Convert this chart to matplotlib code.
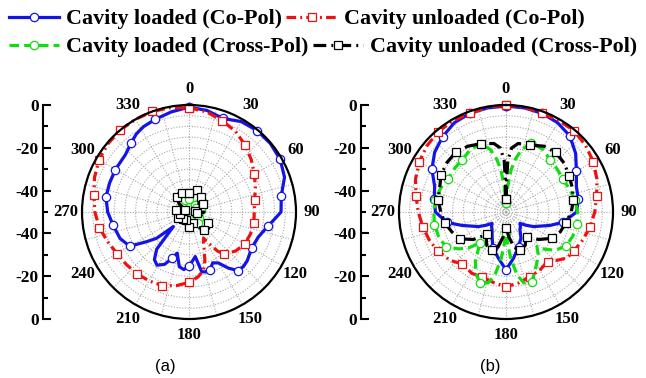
import numpy as np
import matplotlib
matplotlib.use('Agg')
import matplotlib.pyplot as plt
from matplotlib.ticker import FixedLocator

plt.rcParams['font.family'] = ['Liberation Serif', 'DejaVu Serif']
plt.rcParams['font.weight'] = 'bold'

# ---------------- data (dB vs angle in degrees) ----------------
# (a) Co-Pol, cavity loaded
a_blue_ang = [0, 10, 20, 30, 40, 50, 60, 70, 80, 90, 95, 100, 110, 120, 130, 135, 140, 145, 150,
              155, 160, 165, 168, 172, 176, 180, 185, 190, 196, 200, 205, 211, 216, 221, 227, 231,
              235, 240, 249, 260, 270, 280, 290, 300, 312, 320, 326, 332, 340, 350, 360]
a_blue_val = [-1, -1.8, -3.5, -1.2, -0.4, -0.3, -0.8, -2.5, -6.2, -7, -10, -12.5, -15.6, -16.2,
              -14.5, -14, -14.2, -18, -22.5, -23.8, -21.2, -21, -21.5, -29, -27, -25, -23, -24,
              -30, -27, -23, -21, -22.5, -27, -40, -30.5, -25.8, -18, -15.5, -14, -12, -10.6,
              -10.5, -10.3, -10, -7.9, -6, -4.8, -3.9, -2.5, -1]
# (a) Co-Pol, cavity unloaded
a_red_ang = [0, 10, 20, 30, 40, 50, 60, 70, 80, 90, 100, 110, 120, 130, 140, 144, 148, 151, 155,
             158, 162, 166, 172, 180, 190, 200, 210, 220, 230, 240, 250, 260, 270, 280, 290, 300,
             310, 320, 330, 340, 350, 360]
a_red_val = [-1.3, -2.5, -4.6, -6.5, -9.2, -12, -14.7, -17, -18.9, -19.5, -19.2, -19.5, -20, -21.6,
             -24.4, -27.5, -33, -36, -34, -31, -26, -22, -19.4, -17.1, -15, -13.4, -12.8, -12.3,
             -11.8, -11.2, -9.5, -7.5, -6, -4.9, -3, -1.4, -0.5, 0, 0, 0, -0.5, -1.3]
# (a) Cross-Pol, cavity loaded
a_green_ang = list(range(0, 361, 10))
a_green_val = [-44, -43, -42.5, -44, -46, -47, -46, -45, -44.5, -46, -47, -46, -44.5, -43, -43.5,
               -45, -44.5, -44, -44, -45, -46.5, -47, -46, -45, -46, -47, -47.5, -46, -45, -46.5,
               -47, -46, -45, -44.5, -44, -43.5, -44]
# (a) Cross-Pol, cavity unloaded
a_black_ang = list(range(0, 361, 10))
a_black_val = [-41, -42, -39, -41, -41, -44, -42.5, -45, -47, -43, -46, -43, -40, -38, -39, -42,
               -44.5, -45, -43, -44, -46, -47, -45.5, -45, -44, -43, -45.7, -46, -44, -47, -48,
               -44, -41, -39, -40.5, -42, -41]

# (b) Co-Pol, cavity loaded
b_blue_ang = [0, 10, 20, 30, 40, 50, 60, 70, 80, 90, 100, 107, 118, 124, 129, 135, 142, 150, 160,
              171, 180, 189, 200, 210, 218, 225, 231, 236, 242, 253, 260, 270, 280, 290, 300, 310,
              320, 330, 340, 350, 360]
b_blue_val = [-0.5, -0.6, -0.9, -1.8, -3.6, -7.5, -12, -15, -15.7, -17, -22.8, -28.5, -35.5, -39,
              -41.6, -40.5, -39.4, -36, -32.8, -28, -23, -28, -32, -37, -39.4, -40.5, -41.6, -39,
              -35.5, -28.5, -22, -17, -16, -14.5, -10, -6.5, -4, -1.8, -0.9, -0.6, -0.5]
# (b) Co-Pol, cavity unloaded
b_red_ang = [0, 10, 20, 30, 40, 50, 60, 70, 80, 90, 100, 110, 120, 127, 133, 140, 150, 160, 170,
             180, 190, 200, 209, 220, 229, 240, 250, 260, 270, 280, 290, 300, 310, 320, 330, 340,
             350, 360]
b_red_val = [0, -0.3, -0.9, -0.6, -0.5, -1.5, -2.9, -4.8, -7, -8.5, -10.1, -11.8, -13.5, -14.3,
             -17, -19.8, -18.5, -17.8, -16.3, -15.1, -16.5, -17.7, -17.2, -18.3, -15.5, -13.3,
             -11.8, -10.5, -9, -7.3, -5, -3.2, -1.8, -0.9, -0.7, -0.9, -0.3, 0]
# (b) Cross-Pol, cavity loaded
b_green_ang = [0, 4, 7, 10, 14, 20, 30, 40, 50, 60, 70, 80, 90, 100, 110, 120, 128, 134, 138, 143,
               150, 156, 160, 166, 170, 174, 177, 180, 183, 186, 190, 194, 200, 206, 212, 220, 226,
               232, 240, 250, 260, 270, 280, 290, 300, 310, 320, 330, 340, 346, 350, 353, 356, 360]
b_green_val = [-46, -38, -30, -25, -20, -15.7, -16, -18, -18.8, -19.2, -18.5, -17.2, -16.6, -16.4,
               -16.8, -17.8, -21, -25, -28.4, -25, -21.5, -18, -15, -16, -20, -28, -35, -40, -35,
               -28, -20, -16, -14.5, -18, -23, -31, -26, -22, -17.5, -16.5, -16, -16.3, -16.4,
               -17.5, -18.8, -18.5, -18.1, -16.5, -16, -20, -25, -30, -38, -46]
# (b) Cross-Pol, cavity unloaded
b_black_ang = [0, 1, 2, 5, 10, 20, 30, 40, 50, 60, 70, 80, 90, 100, 110, 120, 130, 140, 145, 150,
               160, 167, 173, 180, 187, 193, 200, 210, 215, 220, 230, 240, 250, 260, 270, 280, 290,
               300, 310, 320, 330, 340, 350, 355, 358, 359, 360]
b_black_val = [-44, -36, -26, -20, -17.5, -16.7, -14.5, -13.7, -14.5, -16, -17, -18, -19.5, -21.5,
               -23, -25.4, -30, -35, -34, -32, -31, -33, -38, -42.5, -38, -33, -31, -32, -34, -36.4,
               -30, -25, -23, -21, -19.5, -17.8, -17, -15, -14, -13.5, -14.5, -16, -17.5, -20, -26,
               -36, -44]

panel_labels = ['(a)', '(b)']
legend_labels = ['Cavity loaded (Co-Pol)', 'Cavity unloaded (Co-Pol)',
                 'Cavity loaded (Cross-Pol)', 'Cavity unloaded (Cross-Pol)']
theta_labels = list(range(0, 360, 30))
side_tick_vals = [50, 30, 10, -10, -30, -50]
side_tick_labels = ['0', '-20', '-40', '-40', '-20', '0']

# ---------------- styles ----------------
BLUE, RED, GREEN, BLACK = '#1414e6', '#ee1111', '#11dd11', '#000000'
LW = 2.3
styles = {
    'blue': dict(color=BLUE, lw=LW, ls='-', marker='o'),
    'red': dict(color=RED, lw=LW, dashes=(3, 1.3, 0.6, 1.3), marker='s'),
    'green': dict(color=GREEN, lw=LW, dashes=(3, 1.6), marker='o'),
    'black': dict(color=BLACK, lw=LW, dashes=(4, 1.6, 0.6, 1.6), marker='s'),
}

W, H = 646, 378
fig = plt.figure(figsize=(W / 100, H / 100), dpi=100)
R = 107
centers = [(189, 212), (506, 212)]
side_x = [43, 361]
label_pos = [(165, 367), (490, 367)]

panels = [
    [(a_blue_ang, a_blue_val, 'blue'), (a_red_ang, a_red_val, 'red'),
     (a_green_ang, a_green_val, 'green'), (a_black_ang, a_black_val, 'black')],
    [(b_blue_ang, b_blue_val, 'blue'), (b_red_ang, b_red_val, 'red'),
     (b_green_ang, b_green_val, 'green'), (b_black_ang, b_black_val, 'black')],
]

handles = {}
for k, (cx, cy) in enumerate(centers):
    ax = fig.add_axes([(cx - R) / W, (H - (cy + R)) / H, 2 * R / W, 2 * R / H], projection='polar')
    ax.set_theta_zero_location('N')
    ax.set_theta_direction(-1)
    ax.set_rlim(-50, 0)
    ax.set_yticks(np.arange(-45, 0, 5))
    ax.set_yticklabels([])
    ax.set_xticks(np.radians(np.arange(0, 360, 30)))
    ax.set_xticklabels([])
    ax.xaxis.set_minor_locator(FixedLocator(np.radians(np.arange(15, 360, 30))))
    ax.tick_params(axis='x', which='major', direction='in', length=5, width=1.2, pad=0)
    ax.tick_params(axis='x', which='minor', length=0)
    ax.grid(True, which='both', color='#a8a8a8', ls=(0, (1, 1.5)), lw=0.8)
    ax.spines['polar'].set_linewidth(1.6)
    ax.set_axisbelow(True)
    for ang, val, key in panels[k]:
        ang = np.asarray(ang, float)
        mk = list(np.where(np.mod(ang, 20) == 0)[0])
        st = dict(styles[key])
        ln, = ax.plot(np.radians(ang), val, markevery=mk, markersize=6, mfc='white',
                      mec=st['color'], mew=0.9, clip_on=False, **st)
        handles[key] = ln
    for a in theta_labels:
        ax.text(np.radians(a), 7.5, str(a), ha='center', va='center', fontsize=12,
                fontweight='bold', clip_on=False)

    sax = fig.add_axes([side_x[k] / W, (H - (cy + R)) / H, 0.0001, 2 * R / H])
    sax.set_ylim(-50, 50)
    sax.set_xticks([])
    for s in ['top', 'right', 'bottom']:
        sax.spines[s].set_visible(False)
    sax.spines['left'].set_linewidth(1.5)
    sax.patch.set_visible(False)
    sax.set_yticks(side_tick_vals)
    sax.set_yticklabels(side_tick_labels)
    sax.set_yticks([40, 20, 0, -20, -40], minor=True)
    sax.tick_params(axis='y', which='major', direction='in', length=6, width=1.5, pad=3,
                    labelsize=12.5)
    sax.tick_params(axis='y', which='minor', direction='in', length=3.5, width=1.5)

    fig.text(label_pos[k][0] / W, 1 - label_pos[k][1] / H, panel_labels[k],
             family='Liberation Sans', fontweight='normal', fontsize=12, ha='center', va='center')

leg_kw = dict(loc='upper left', frameon=False, ncol=2, handlelength=2.3, handletextpad=0.32,
              columnspacing=0.18, borderaxespad=0, borderpad=0, numpoints=1,
              prop=dict(family='Liberation Serif', weight='bold', size=15.8))
fig.legend([handles['blue'], handles['red']], legend_labels[:2],
           bbox_to_anchor=(9 / W, 1 - 9 / H), **leg_kw)
fig.legend([handles['green'], handles['black']], legend_labels[2:],
           bbox_to_anchor=(9 / W, 1 - 37 / H), **leg_kw)

fig.savefig('out.png', dpi=100)
